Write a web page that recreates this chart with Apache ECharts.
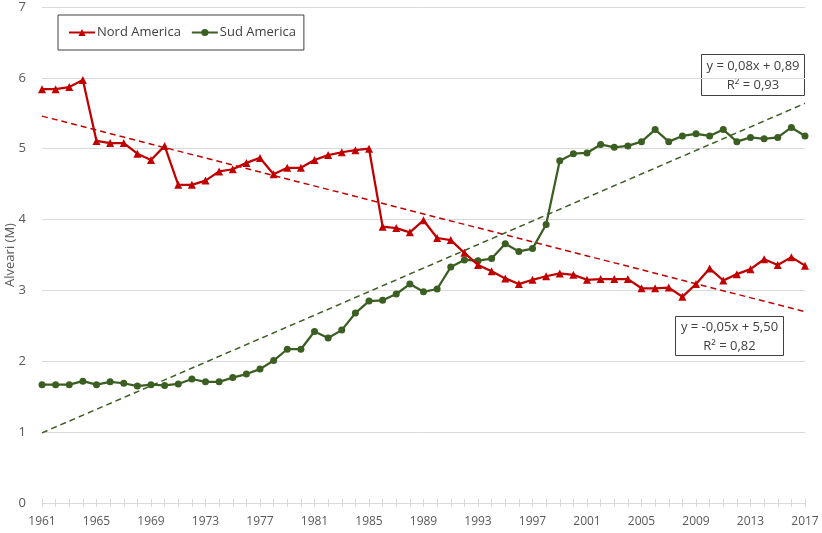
<!DOCTYPE html>
<html>
<head>
<meta charset="utf-8">
<script src="https://cdn.jsdelivr.net/npm/echarts@6/dist/echarts.min.js"></script>
<style>
  html, body { margin: 0; padding: 0; background: #fff; }
  #chart { width: 822px; height: 533px; }
</style>
</head>
<body>
<div id="chart"></div>
<script>
// anni 1961-2017
const years = [];
for (let y = 1961; y <= 2017; y++) years.push(String(y));

// milioni di alveari
const nordAmerica = [
  5.84, 5.84, 5.87, 5.97, 5.11, 5.08, 5.08, 4.93, 4.84, 5.04,
  4.49, 4.49, 4.55, 4.68, 4.71, 4.80, 4.87, 4.64, 4.73, 4.73,
  4.84, 4.91, 4.95, 4.98, 5.00, 3.90, 3.88, 3.82, 3.99, 3.74,
  3.71, 3.53, 3.36, 3.27, 3.17, 3.09, 3.15, 3.20, 3.24, 3.22,
  3.15, 3.16, 3.16, 3.16, 3.03, 3.03, 3.04, 2.91, 3.09, 3.31,
  3.14, 3.23, 3.30, 3.44, 3.36, 3.47, 3.35
];
const sudAmerica = [
  1.67, 1.67, 1.67, 1.72, 1.67, 1.71, 1.69, 1.65, 1.67, 1.66,
  1.68, 1.75, 1.71, 1.71, 1.77, 1.82, 1.89, 2.01, 2.17, 2.17,
  2.42, 2.33, 2.44, 2.68, 2.85, 2.86, 2.95, 3.09, 2.98, 3.02,
  3.33, 3.43, 3.42, 3.45, 3.66, 3.55, 3.59, 3.93, 4.83, 4.93,
  4.94, 5.06, 5.02, 5.04, 5.10, 5.27, 5.10, 5.18, 5.21, 5.18,
  5.27, 5.10, 5.16, 5.14, 5.16, 5.30, 5.18
];

// linee di tendenza (valori agli estremi 1961 e 2017)
const nordTrend = [5.46, 2.70];
const sudTrend = [0.99, 5.64];
const nordTrendLabel = 'y = -0,05x + 5,50\nR² = 0,82';
const sudTrendLabel = 'y = 0,08x + 0,89\nR² = 0,93';

const yTicks = [0, 1, 2, 3, 4, 5, 6, 7];

const RED = '#C00000';
const GREEN = '#3B5E23';
const FONT = "'Open Sans', sans-serif";

const chart = echarts.init(document.getElementById('chart'));

const last = years.length - 1;

const option = {
  animation: false,
  textStyle: { fontFamily: FONT },
  grid: { left: 42, right: 17, top: 7, bottom: 30, outerBoundsMode: 'none', containLabel: false },
  legend: {
    left: 58,
    top: 15,
    data: ['Nord America', 'Sud America'],
    itemWidth: 26,
    itemHeight: 9,
    itemGap: 10,
    padding: [11, 8, 11, 10],
    borderColor: '#404040',
    borderWidth: 1,
    textStyle: { color: '#404040', fontSize: 13, fontFamily: FONT, padding: [0, 0, 0, -3] }
  },
  xAxis: [{
    type: 'category',
    data: years,
    boundaryGap: false,
    axisLine: { lineStyle: { color: '#D9D9D9' } },
    axisTick: { show: true, length: 4, interval: 0, lineStyle: { color: '#D9D9D9' } },
    axisLabel: { interval: 3, color: '#595959', fontSize: 12, margin: 13, fontFamily: FONT },
    splitLine: { show: false }
  }, {
    type: 'category',
    data: years,
    boundaryGap: false,
    position: 'bottom',
    axisLine: { show: false },
    axisTick: { show: true, inside: true, length: 4, interval: 0, lineStyle: { color: '#D9D9D9' } },
    axisLabel: { show: false },
    splitLine: { show: false }
  }],
  yAxis: {
    type: 'value',
    min: yTicks[0],
    max: yTicks[yTicks.length - 1],
    interval: 1,
    name: 'Alveari (M)',
    nameLocation: 'middle',
    nameGap: 25,
    nameMoveOverlap: false,
    nameTextStyle: { color: '#595959', fontSize: 13, fontFamily: FONT },
    axisLine: { show: false },
    axisTick: { show: false },
    axisLabel: { color: '#595959', fontSize: 13, margin: 16, fontFamily: FONT },
    splitLine: { lineStyle: { color: '#D9D9D9', width: 1 } }
  },
  series: [
    {
      name: 'Nord America',
      type: 'line',
      data: nordAmerica,
      symbol: 'triangle',
      symbolSize: 8,
      itemStyle: { color: RED },
      lineStyle: { color: RED, width: 2.25 },
      z: 4
    },
    {
      name: 'Sud America',
      type: 'line',
      data: sudAmerica,
      symbol: 'circle',
      symbolSize: 7,
      itemStyle: { color: GREEN },
      lineStyle: { color: GREEN, width: 2.25 },
      z: 3
    },
    {
      name: 'tendenza Nord',
      type: 'line',
      data: [[years[0], nordTrend[0]], [years[last], nordTrend[1]]],
      symbol: 'none',
      lineStyle: { color: RED, width: 1.5, type: [6, 4] },
      silent: true,
      z: 2
    },
    {
      name: 'tendenza Sud',
      type: 'line',
      data: [[years[0], sudTrend[0]], [years[last], sudTrend[1]]],
      symbol: 'none',
      lineStyle: { color: GREEN, width: 1.5, type: [6, 4] },
      silent: true,
      z: 2
    }
  ],
  graphic: [
    {
      type: 'group', left: 701, top: 54, z: 10,
      children: [
        { type: 'rect', shape: { x: 0, y: 0, width: 103, height: 41 },
          style: { fill: '#fff', stroke: '#404040', lineWidth: 1 } },
        { type: 'text', x: 51.5, y: 21,
          style: { text: sudTrendLabel, fill: '#404040', font: '13px ' + FONT,
                   align: 'center', verticalAlign: 'middle', lineHeight: 19 } }
      ]
    },
    {
      type: 'group', left: 675, top: 316, z: 10,
      children: [
        { type: 'rect', shape: { x: 0, y: 0, width: 108, height: 39 },
          style: { fill: '#fff', stroke: '#404040', lineWidth: 1 } },
        { type: 'text', x: 54, y: 20,
          style: { text: nordTrendLabel, fill: '#404040', font: '13px ' + FONT,
                   align: 'center', verticalAlign: 'middle', lineHeight: 19 } }
      ]
    }
  ]
};

chart.setOption(option);
</script>
</body>
</html>
